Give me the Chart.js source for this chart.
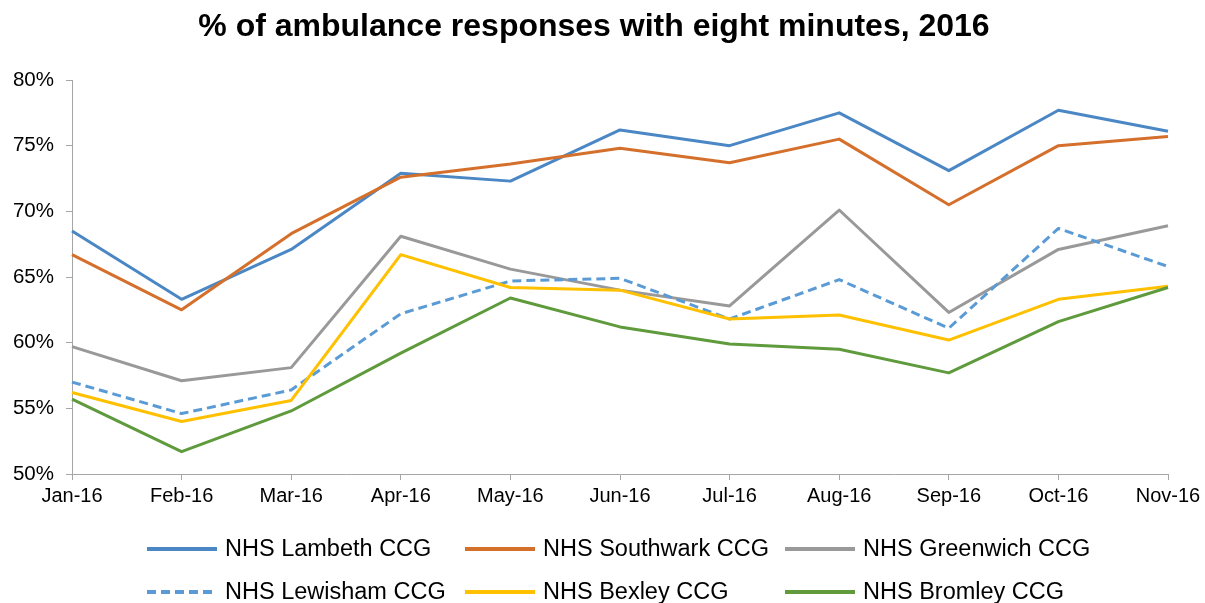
<!DOCTYPE html>
<html>
<head>
<meta charset="utf-8">
<title>Ambulance responses</title>
<script src="https://cdn.jsdelivr.net/npm/chart.js@4/dist/chart.umd.min.js"></script>
<style>
  html, body { margin: 0; padding: 0; background: #fff; }
  canvas { display: block; }
</style>
</head>
<body>
<canvas id="ambChart" width="1205" height="603"></canvas>
<script>
const months = ["Jan-16", "Feb-16", "Mar-16", "Apr-16", "May-16", "Jun-16", "Jul-16", "Aug-16", "Sep-16", "Oct-16", "Nov-16"];

const lambeth   = [68.5, 63.3, 67.1, 72.9, 72.3, 76.2, 75.0, 77.5, 73.1, 77.7, 76.1];
const southwark = [66.7, 62.5, 68.3, 72.6, 73.6, 74.8, 73.7, 75.5, 70.5, 75.0, 75.7];
const greenwich = [59.7, 57.1, 58.1, 68.1, 65.6, 64.0, 62.8, 70.1, 62.3, 67.1, 68.9];
const lewisham  = [57.0, 54.6, 56.4, 62.2, 64.7, 64.9, 61.8, 64.8, 61.1, 68.7, 65.8];
const bexley    = [56.2, 54.0, 55.6, 66.7, 64.2, 64.0, 61.8, 62.1, 60.2, 63.3, 64.3];
const bromley   = [55.7, 51.7, 54.8, 59.2, 63.4, 61.2, 59.9, 59.5, 57.7, 61.6, 64.2];

const seriesNames = ["NHS Lambeth CCG", "NHS Southwark CCG", "NHS Greenwich CCG",
                     "NHS Lewisham CCG", "NHS Bexley CCG", "NHS Bromley CCG"];
const chartTitle = "% of ambulance responses with eight minutes, 2016";

const FONT = "'Liberation Sans', Arial, sans-serif";
const AXIS_GREY = "#a6a6a6";

function mkSet(i, data, color, dash) {
  return {
    label: seriesNames[i],
    data: data,
    borderColor: color,
    backgroundColor: color,
    borderWidth: 3,
    borderDash: dash || [],
    borderCapStyle: "butt",
    borderJoinStyle: "round",
    pointRadius: 0,
    tension: 0,
    fill: false,
    order: 6 - i          // later series on top, like the original
  };
}

// title is centred a bit right of the canvas centre in the original
const titlePlugin = {
  id: "offsetTitle",
  afterDraw(chart) {
    const ctx = chart.ctx;
    ctx.save();
    ctx.font = "bold 32px " + FONT;
    ctx.fillStyle = "#000";
    ctx.textAlign = "center";
    ctx.textBaseline = "middle";
    ctx.fillText(chartTitle, 594, 27);
    ctx.restore();
  }
};

// legend in 3 fixed columns x 2 rows, drawn under the x axis
const gridLegend = {
  id: "gridLegend",
  afterDraw(chart) {
    const ctx = chart.ctx;
    const cols = [147, 465, 785];
    const rows = [549, 592];
    ctx.save();
    ctx.font = "23.5px " + FONT;
    ctx.textBaseline = "middle";
    ctx.fillStyle = "#000";
    chart.data.datasets.forEach((ds, i) => {
      const x = cols[i % 3];
      const y = rows[Math.floor(i / 3)];
      ctx.beginPath();
      ctx.strokeStyle = ds.borderColor;
      ctx.lineWidth = 4;
      ctx.lineCap = "butt";
      ctx.setLineDash(ds.borderDash.length ? [9, 5] : []);
      ctx.moveTo(x, y);
      ctx.lineTo(x + 70, y);
      ctx.stroke();
      ctx.setLineDash([]);
      ctx.fillText(ds.label, x + 78, y + 1);
    });
    ctx.restore();
  }
};

const ctx = document.getElementById("ambChart").getContext("2d");
new Chart(ctx, {
  type: "line",
  data: {
    labels: months,
    datasets: [
      mkSet(0, lambeth,   "#4a87c4"),
      mkSet(1, southwark, "#d4702c"),
      mkSet(2, greenwich, "#999999"),
      mkSet(3, lewisham,  "#5b9bd5", [9, 5]),
      mkSet(4, bexley,    "#ffc000"),
      mkSet(5, bromley,   "#5f9b3c")
    ]
  },
  options: {
    responsive: false,
    animation: false,
    devicePixelRatio: 1,
    layout: { padding: { left: 0, right: 37, top: 80, bottom: 0 } },
    plugins: {
      legend: { display: false },
      tooltip: { enabled: false },
      title: { display: false }
    },
    scales: {
      x: {
        offset: false,
        grid: { drawOnChartArea: false, drawTicks: true, tickLength: 6, color: AXIS_GREY },
        border: { display: true, color: AXIS_GREY, width: 1 },
        ticks: {
          color: "#000",
          font: { family: FONT, size: 20 },
          padding: 4,
          maxRotation: 0,
          autoSkip: false
        },
        afterFit: (s) => { s.height = 129; }
      },
      y: {
        min: 50,
        max: 80,
        grid: { drawOnChartArea: false, drawTicks: true, tickLength: 6, color: AXIS_GREY },
        border: { display: true, color: AXIS_GREY, width: 1 },
        ticks: {
          stepSize: 5,
          color: "#000",
          font: { family: FONT, size: 20.5 },
          padding: 12,
          callback: (v) => v + "%"
        },
        afterFit: (s) => { s.width = 72; }
      }
    }
  },
  plugins: [titlePlugin, gridLegend]
});
</script>
</body>
</html>
